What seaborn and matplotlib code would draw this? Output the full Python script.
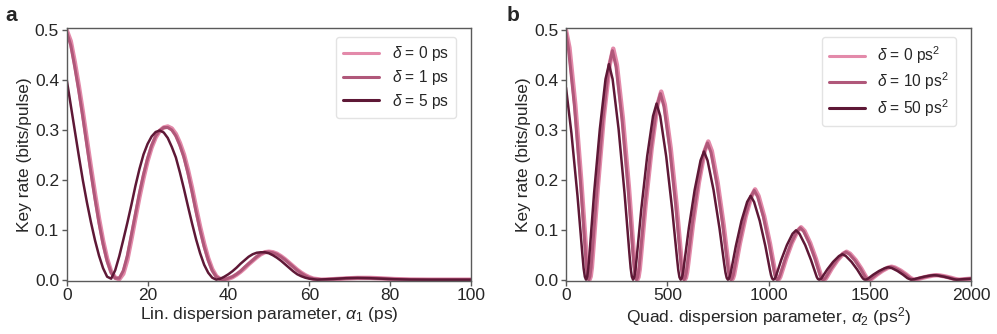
import matplotlib.pyplot as plt
import seaborn as sns

# ---- panel a: linear dispersion ----
lin_x = [0, 1, 2, 3, 4, 5, 6, 7, 8, 9,
         10, 11, 12, 13, 14, 15, 16, 17, 18, 19,
         20, 21, 22, 23, 24, 25, 26, 27, 28, 29,
         30, 31, 32, 33, 34, 35, 36, 37, 38, 39,
         40, 41, 42, 43, 44, 45, 46, 47, 48, 49,
         50, 51, 52, 53, 54, 55, 56, 57, 58, 59,
         60, 61, 62, 63,
         66, 69, 72, 75, 78, 81, 85, 90, 100]
lin_y_d0 = [0.500, 0.478, 0.436, 0.388, 0.336, 0.280, 0.225, 0.172, 0.122, 0.078,
            0.042, 0.016, 0.004, 0.001, 0.012, 0.040, 0.081, 0.124, 0.166, 0.204,
            0.238, 0.265, 0.285, 0.298, 0.305, 0.307, 0.303, 0.292, 0.274, 0.251,
            0.220, 0.184, 0.144, 0.106, 0.072, 0.043, 0.021, 0.007, 0.001, 0.000,
            0.002, 0.005, 0.010, 0.016, 0.023, 0.031, 0.038, 0.045, 0.051, 0.055,
            0.056, 0.055, 0.052, 0.047, 0.041, 0.034, 0.027, 0.020, 0.014, 0.009,
            0.005, 0.002, 0.001, 0.000,
            0.001, 0.0025, 0.0035, 0.0035, 0.0025, 0.0012, 0.0003, 0.0, 0.0]
lin_y_d1 = [0.496, 0.470, 0.426, 0.378, 0.325, 0.269, 0.214, 0.162, 0.113, 0.071,
            0.037, 0.014, 0.003, 0.003, 0.018, 0.048, 0.090, 0.132, 0.174, 0.211,
            0.243, 0.269, 0.288, 0.299, 0.305, 0.305, 0.300, 0.288, 0.269, 0.245,
            0.213, 0.176, 0.136, 0.099, 0.066, 0.039, 0.018, 0.006, 0.001, 0.000,
            0.003, 0.006, 0.011, 0.017, 0.025, 0.032, 0.039, 0.046, 0.052, 0.055,
            0.0555, 0.054, 0.051, 0.046, 0.040, 0.033, 0.026, 0.019, 0.013, 0.008,
            0.004, 0.002, 0.001, 0.000,
            0.001, 0.0027, 0.0035, 0.0034, 0.0024, 0.0011, 0.0003, 0.0, 0.0]
lin_y_d5 = [0.401, 0.350, 0.299, 0.248, 0.199, 0.155, 0.115, 0.079, 0.048, 0.023,
            0.006, 0.002, 0.019, 0.047, 0.080, 0.114, 0.150, 0.188, 0.222, 0.251,
            0.272, 0.287, 0.296, 0.299, 0.295, 0.284, 0.266, 0.245, 0.215, 0.182,
            0.147, 0.113, 0.081, 0.053, 0.030, 0.014, 0.004, 0.000, 0.002, 0.006,
            0.011, 0.017, 0.024, 0.032, 0.039, 0.046, 0.051, 0.054, 0.055, 0.055,
            0.053, 0.049, 0.044, 0.038, 0.031, 0.024, 0.017, 0.011, 0.007, 0.004,
            0.002, 0.001, 0.000, 0.0005,
            0.0015, 0.003, 0.0035, 0.003, 0.002, 0.001, 0.0002, 0.0, 0.0]

# ---- panel b: quadratic dispersion ----
quad_x_d0 = [0, 17, 46, 75, 99, 104.4, 110.2,
             116, 121.9, 127.7, 133.5, 157, 186, 215.5,
             233, 251, 280.5, 310.5, 334, 340.1, 346,
             352, 357.9, 363.8, 369.5, 393, 423, 452,
             470, 487.5, 516.5, 545.5, 568.5, 574.4, 580.2,
             586, 591.8, 597.6, 603.5, 626.5, 655.5, 684.5,
             702, 719.5, 748.5, 777.5, 800.5, 806.4, 812.2,
             818, 823.8, 829.5, 835, 858, 887, 916,
             933, 950, 978, 1006.5, 1029, 1034.7, 1040.4,
             1046, 1051.7, 1057.4, 1063, 1086, 1114.5, 1143,
             1160, 1177, 1205, 1233, 1255, 1260.8, 1266.4,
             1272, 1277.7, 1283.3, 1289, 1311.5, 1340, 1368,
             1385, 1401.5, 1429.5, 1457, 1479, 1484.9, 1490.5,
             1496, 1501.5, 1507.1, 1512.5, 1535, 1562.5, 1590,
             1607, 1623.5, 1651.5, 1679, 1701,
             1718, 1734.5, 1757, 1784.5, 1812,
             1829, 1845.5, 1873.5, 1901, 1923,
             1940, 1970, 2000]
quad_y_d0 = [0.500, 0.465, 0.350, 0.200, 0.060, 0.027, 0.007,
             0.0, 0.0065, 0.025, 0.0556, 0.185, 0.324, 0.431,
             0.463, 0.431, 0.324, 0.185, 0.0556, 0.025, 0.0065,
             0.0, 0.0053, 0.0204, 0.0452, 0.151, 0.264, 0.351,
             0.377, 0.351, 0.264, 0.151, 0.0452, 0.0204, 0.0053,
             0.0, 0.0039, 0.015, 0.0332, 0.111, 0.194, 0.258,
             0.277, 0.258, 0.194, 0.111, 0.0332, 0.015, 0.0039,
             0.0, 0.0025, 0.0098, 0.0217, 0.0724, 0.127, 0.168,
             0.181, 0.168, 0.127, 0.0724, 0.0217, 0.0098, 0.0025,
             0.0, 0.0015, 0.0057, 0.0126, 0.042, 0.0735, 0.0977,
             0.105, 0.0977, 0.0735, 0.042, 0.0126, 0.0057, 0.0015,
             0.0, 0.0008, 0.003, 0.0067, 0.0224, 0.0392, 0.0521,
             0.056, 0.0521, 0.0392, 0.0224, 0.0067, 0.003, 0.0008,
             0.0, 0.0004, 0.0014, 0.0031, 0.0104, 0.0182, 0.0242,
             0.026, 0.0242, 0.0182, 0.0104, 0.0031,
             0.0, 0.0011, 0.0036, 0.0063, 0.0084,
             0.009, 0.0084, 0.0063, 0.0036, 0.0011,
             0.0, 0.001, 0.002]

quad_x_d10 = [0, 13, 42, 71, 95, 100.4, 106.2,
              112, 117.9, 123.7, 129.5, 153, 182, 211.5,
              229, 247, 276.5, 306.5, 330, 336.1, 342,
              348, 353.9, 359.8, 365.5, 389, 419, 448,
              466, 483.5, 512.5, 541.5, 564.5, 570.4, 576.2,
              582, 587.8, 593.6, 599.5, 622.5, 651.5, 680.5,
              698, 715.5, 744.5, 773.5, 796.5, 802.4, 808.2,
              814, 819.8, 825.5, 831, 854, 883, 912,
              929, 946, 974, 1002.5, 1025, 1030.7, 1036.4,
              1042, 1047.7, 1053.4, 1059, 1082, 1110.5, 1139,
              1156, 1173, 1201, 1229, 1251, 1256.8, 1262.4,
              1268, 1273.7, 1279.3, 1285, 1307.5, 1336, 1364,
              1381, 1397.5, 1425.5, 1453, 1475, 1480.9, 1486.5,
              1492, 1497.5, 1503.1, 1508.5, 1531, 1558.5, 1586,
              1603, 1619.5, 1647.5, 1675, 1697,
              1714, 1730.5, 1753, 1780.5, 1808,
              1825, 1841.5, 1869.5, 1897, 1919,
              1936, 1968, 2000]
quad_y_d10 = [0.495, 0.460, 0.347, 0.198, 0.059, 0.027, 0.007,
              0.0, 0.0064, 0.025, 0.055, 0.183, 0.321, 0.427,
              0.459, 0.427, 0.321, 0.183, 0.055, 0.025, 0.0064,
              0.0, 0.0052, 0.020, 0.0447, 0.149, 0.261, 0.347,
              0.373, 0.347, 0.261, 0.149, 0.0447, 0.020, 0.0052,
              0.0, 0.0038, 0.0148, 0.0329, 0.110, 0.192, 0.255,
              0.274, 0.255, 0.192, 0.110, 0.0329, 0.0148, 0.0038,
              0.0, 0.0025, 0.0097, 0.0215, 0.0717, 0.126, 0.166,
              0.179, 0.166, 0.126, 0.0717, 0.0215, 0.0097, 0.0025,
              0.0, 0.0015, 0.0056, 0.0125, 0.0416, 0.0728, 0.0967,
              0.104, 0.0967, 0.0728, 0.0416, 0.0125, 0.0056, 0.0015,
              0.0, 0.0008, 0.003, 0.0066, 0.0222, 0.0388, 0.0516,
              0.0554, 0.0516, 0.0388, 0.0222, 0.0066, 0.003, 0.0008,
              0.0, 0.0004, 0.0014, 0.0031, 0.0103, 0.018, 0.024,
              0.0258, 0.024, 0.018, 0.0103, 0.0031,
              0.0, 0.0011, 0.0036, 0.0063, 0.0084,
              0.009, 0.0084, 0.0063, 0.0036, 0.0011,
              0.0, 0.001, 0.002]

quad_x_d50 = [0, 27, 57, 81, 87, 93,
              99, 104.7, 110.3, 116, 138.5, 167, 195,
              212, 230, 259.5, 289, 313, 319.1, 325,
              331, 336.8, 342.6, 348.5, 371.5, 400.5, 429.5,
              447, 465, 494.5, 524, 548, 554.1, 560,
              566, 571.8, 577.5, 583, 606, 635, 664,
              681, 698.5, 728, 757.5, 781, 787.2, 793.1,
              799, 804.6, 810.2, 816, 838, 866, 894,
              911, 928, 956, 984, 1006, 1011.8, 1017.4,
              1023, 1028.6, 1034.2, 1040, 1062, 1090, 1118,
              1135, 1152, 1180.5, 1209, 1232, 1237.6, 1243.3,
              1249, 1254.8, 1260.5, 1266, 1289, 1318, 1347,
              1364, 1381, 1409, 1437, 1459, 1464.8, 1470.4,
              1476, 1481.8, 1487.5, 1493, 1516, 1545, 1574,
              1591, 1607.5, 1635.5, 1663, 1685,
              1702, 1719, 1742, 1771, 1800,
              1817, 1833.5, 1861.5, 1889, 1911,
              1928, 1960, 2000]
quad_y_d50 = [0.385, 0.293, 0.167, 0.050, 0.0226, 0.0059,
              0.0, 0.006, 0.0233, 0.0518, 0.173, 0.302, 0.402,
              0.432, 0.402, 0.302, 0.173, 0.0518, 0.0233, 0.006,
              0.0, 0.0049, 0.0191, 0.0424, 0.141, 0.247, 0.328,
              0.353, 0.328, 0.247, 0.141, 0.0424, 0.0191, 0.0049,
              0.0, 0.0036, 0.0139, 0.0308, 0.103, 0.180, 0.239,
              0.257, 0.239, 0.180, 0.103, 0.0308, 0.0139, 0.0036,
              0.0, 0.0024, 0.0091, 0.0202, 0.0672, 0.118, 0.156,
              0.168, 0.156, 0.118, 0.0672, 0.0202, 0.0091, 0.0024,
              0.0, 0.0014, 0.0053, 0.0119, 0.0396, 0.0693, 0.0921,
              0.099, 0.0921, 0.0693, 0.0396, 0.0119, 0.0053, 0.0014,
              0.0, 0.0007, 0.0028, 0.0061, 0.0204, 0.0357, 0.0474,
              0.051, 0.0474, 0.0357, 0.0204, 0.0061, 0.0028, 0.0007,
              0.0, 0.0004, 0.0014, 0.003, 0.010, 0.0175, 0.0233,
              0.025, 0.0233, 0.0175, 0.010, 0.003,
              0.0, 0.0011, 0.0036, 0.0063, 0.0084,
              0.009, 0.0084, 0.0063, 0.0036, 0.0011,
              0.0, 0.001, 0.002]

colors = ['#e38aaa', '#b0587a', '#5e1836']
widths = [3.2, 2.2, 1.8]

sns.set_style('white')
plt.rcParams['font.family'] = ['Liberation Sans', 'DejaVu Sans']
plt.rcParams['mathtext.fontset'] = 'custom'
plt.rcParams['mathtext.rm'] = 'Liberation Sans'
plt.rcParams['mathtext.it'] = 'Liberation Sans:italic'

fig = plt.figure(figsize=(9.97, 3.34), dpi=100)
ax_a = fig.add_axes([0.0669, 0.1596, 0.4055, 0.7574])
ax_b = fig.add_axes([0.5677, 0.1596, 0.4065, 0.7574])

series_a = [(lin_x, lin_y_d0, r'$\delta$ = 0 ps'),
            (lin_x, lin_y_d1, r'$\delta$ = 1 ps'),
            (lin_x, lin_y_d5, r'$\delta$ = 5 ps')]
series_b = [(quad_x_d0, quad_y_d0, r'$\delta$ = 0 ps$^2$'),
            (quad_x_d10, quad_y_d10, r'$\delta$ = 10 ps$^2$'),
            (quad_x_d50, quad_y_d50, r'$\delta$ = 50 ps$^2$')]

for ax, series in [(ax_a, series_a), (ax_b, series_b)]:
    for num, (xs, ys, lab) in enumerate(series):
        sns.lineplot(x=xs, y=ys, ax=ax, color=colors[num], lw=widths[num],
                     label=lab, estimator=None)
    for sp in ax.spines.values():
        sp.set_color('#5a5a5a')
        sp.set_linewidth(1.0)
    ax.tick_params(direction='out', length=3.5, width=1, color='#5a5a5a',
                   labelsize=12.5, pad=2, bottom=True, left=True)
    ax.set_ylim(-0.002, 0.505)
    ax.set_yticks([0.0, 0.1, 0.2, 0.3, 0.4, 0.5])
    ax.set_ylabel('Key rate (bits/pulse)', fontsize=12.5, labelpad=2)
    leg = ax.legend(loc='upper right', bbox_to_anchor=(0.962, 0.962),
                    borderaxespad=0, fontsize=11.2, handlelength=2.3,
                    labelspacing=0.3, borderpad=0.45, handletextpad=0.8,
                    frameon=True, fancybox=True)
    leg.get_frame().set_edgecolor('#dddddd')
    for ln in leg.get_lines():
        ln.set_linewidth(2.2)

ax_a.set_xlim(0, 100)
ax_a.set_xticks([0, 20, 40, 60, 80, 100])
ax_a.set_xlabel(r'Lin. dispersion parameter, $\alpha_1$ (ps)', fontsize=12.5, labelpad=1)
ax_b.set_xlim(0, 2000)
ax_b.set_xticks([0, 500, 1000, 1500, 2000])
ax_b.set_xlabel(r'Quad. dispersion parameter, $\alpha_2$ (ps$^2$)', fontsize=12.5, labelpad=1)

fig.text(0.005, 0.955, 'a', fontsize=15, fontweight='bold', va='center')
fig.text(0.508, 0.955, 'b', fontsize=15, fontweight='bold', va='center')

plt.savefig('out.png', dpi=100)
